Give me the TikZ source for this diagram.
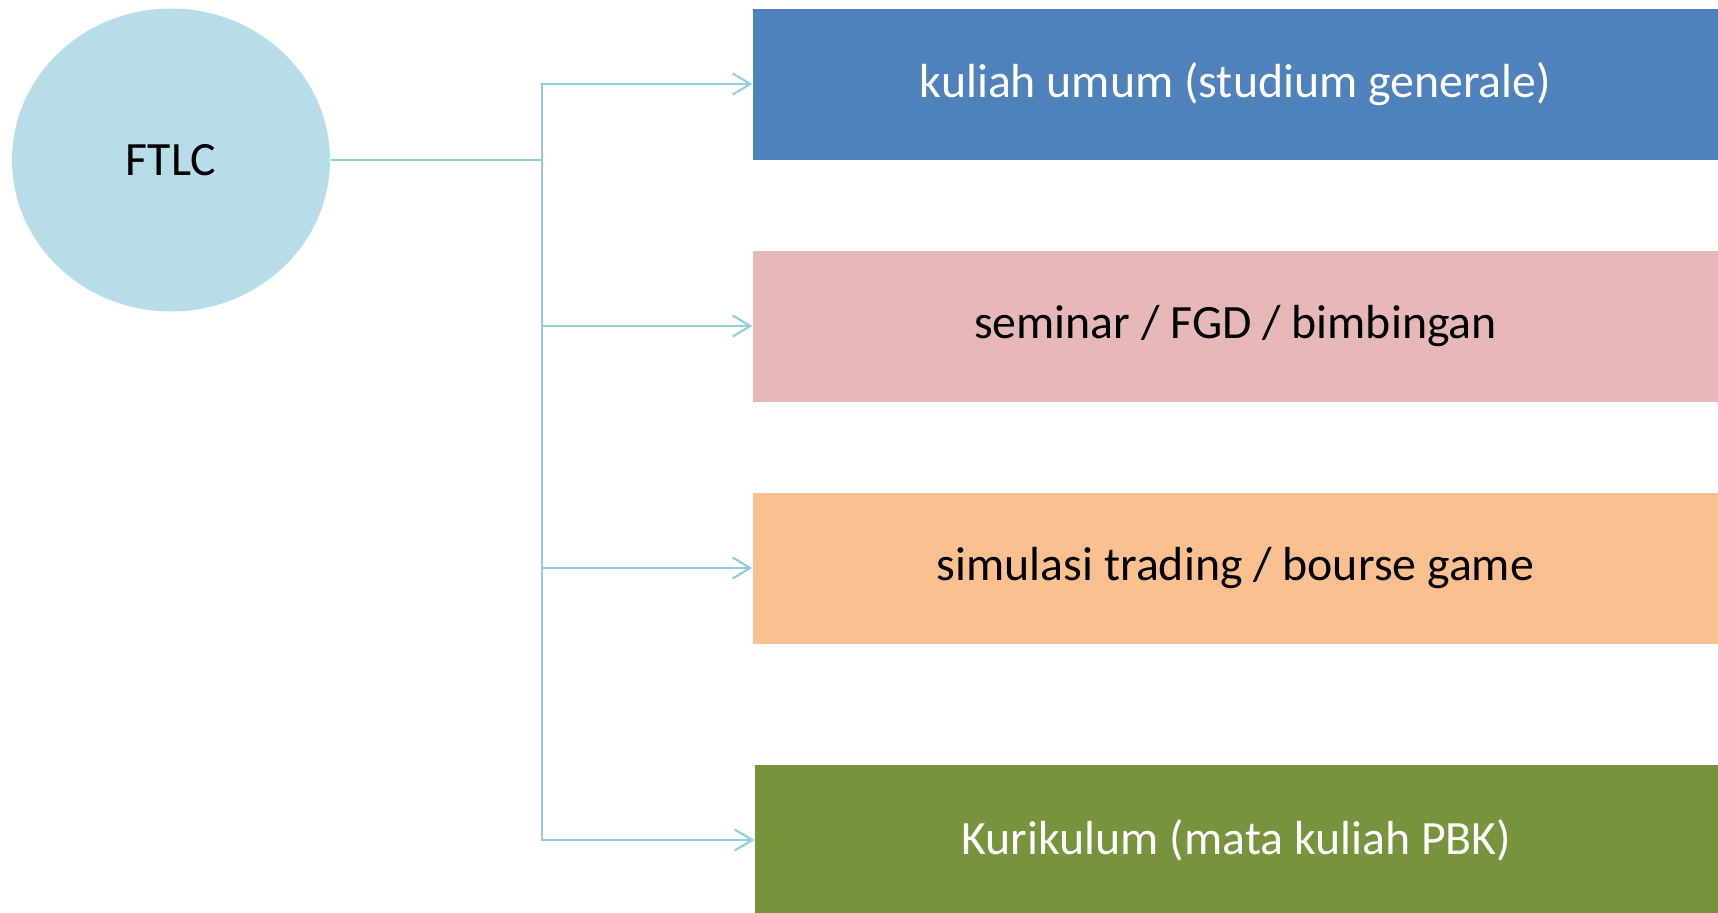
\documentclass[tikz,border=0pt]{standalone}
\usepackage{fontspec}
\setmainfont{Carlito}
\usepackage{tikz}
\usetikzlibrary{arrows.meta,shapes.geometric}

\definecolor{hubfill}{HTML}{B7DEE8}
\definecolor{linkblue}{HTML}{92CDDC}
\definecolor{boxblue}{HTML}{4F81BD}
\definecolor{boxpink}{HTML}{E6B9B8}
\definecolor{boxorange}{HTML}{FAC090}
\definecolor{boxgreen}{HTML}{77933C}

\begin{document}
\begin{tikzpicture}[x=0.01cm,y=-0.01cm,
  hub/.style={ellipse,fill=hubfill,minimum width=318*0.01cm,minimum height=303*0.01cm,
    inner sep=0pt,font=\fontsize{13.6}{16}\selectfont},
  item/.style={rectangle,minimum width=965*0.01cm,minimum height=151*0.01cm,
    inner sep=0pt,font=\fontsize{13.6}{16}\selectfont},
  link/.style={draw=linkblue,line width=0.6pt,-{Straight Barb[length=5pt,width=6pt]}}]
\useasboundingbox (0,0) rectangle (1718,912);

\node[hub] (ftlc) at (171,160) {FTLC};

\node[item,fill=boxblue,text=white] (umum) at (1235.5,84) {kuliah umum (studium generale)};
\node[item,fill=boxpink] (seminar) at (1235.5,326) {seminar / FGD / bimbingan};
\node[item,fill=boxorange] (trading) at (1235.5,568) {simulasi trading / bourse game};
\node[item,fill=boxgreen,text=white,minimum width=963*0.01cm] (kurikulum) at (1236.5,840) {Kurikulum (mata kuliah PBK)};

\coordinate (split) at (542,160);
\draw[link] (ftlc.east) -- (split) |- (umum.west);
\draw[link] (ftlc.east) -- (split) |- (seminar.west);
\draw[link] (ftlc.east) -- (split) |- (trading.west);
\draw[link] (ftlc.east) -- (split) |- (kurikulum.west);
\end{tikzpicture}
\end{document}
